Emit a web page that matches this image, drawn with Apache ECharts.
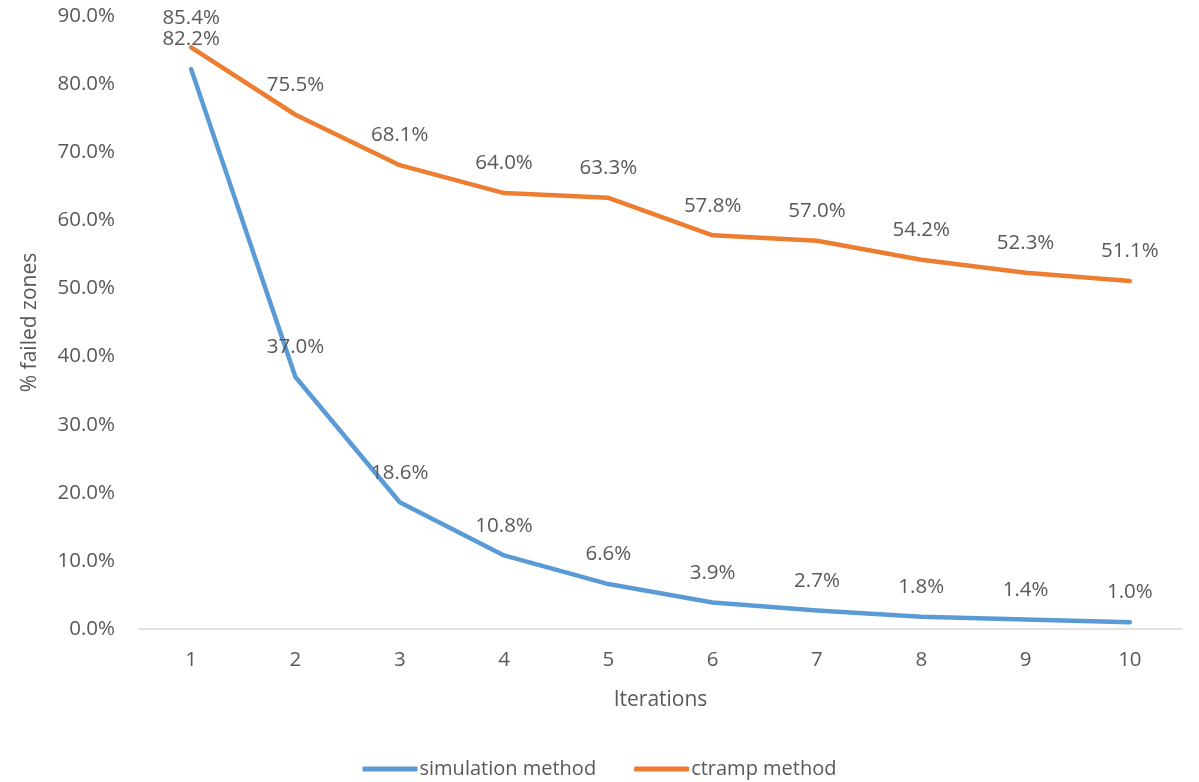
<!DOCTYPE html>
<html>
<head>
<meta charset="utf-8">
<script src="https://cdn.jsdelivr.net/npm/echarts@6/dist/echarts.min.js"></script>
<style>
  html, body { margin: 0; padding: 0; background: #fff; }
  #chart { width: 1199px; height: 782px; }
</style>
</head>
<body>
<div id="chart"></div>
<script>
// Iterations on the x axis
const iterations = ['1', '2', '3', '4', '5', '6', '7', '8', '9', '10'];
// Share of failed zones per iteration (%)
const simulationMethod = [82.2, 37.0, 18.6, 10.8, 6.6, 3.9, 2.7, 1.8, 1.4, 1.0];
const ctrampMethod = [85.4, 75.5, 68.1, 64.0, 63.3, 57.8, 57.0, 54.2, 52.3, 51.1];

const FONT = '"Open Sans", sans-serif';
const TEXT = '#595959';

const chart = echarts.init(document.getElementById('chart'), null, { renderer: 'canvas' });

function lineSeries(name, data, color) {
  return {
    name: name,
    type: 'line',
    data: data,
    // tiny invisible markers so the value labels have an anchor
    showSymbol: true,
    symbol: 'circle',
    symbolSize: 0.1,
    lineStyle: { color: color, width: 4.5, cap: 'round', join: 'round' },
    itemStyle: { color: color },
    label: {
      show: true,
      position: 'top',
      distance: 19,
      color: TEXT,
      fontFamily: FONT,
      fontSize: 20.5,
      formatter: p => p.value.toFixed(1) + '%'
    },
    emphasis: { disabled: true },
    animation: false
  };
}

chart.setOption({
  backgroundColor: '#fff',
  animation: false,
  grid: { left: 139, right: 17, top: 16, bottom: 153, containLabel: false },
  legend: {
    top: 754,
    left: 'center',
    itemWidth: 55,
    itemHeight: 5,
    itemGap: 38,
    icon: 'roundRect',
    textStyle: { color: TEXT, fontFamily: FONT, fontSize: 20, padding: [0, 0, 0, -3] },
    data: ['simulation method', 'ctramp method']
  },
  xAxis: {
    type: 'category',
    data: iterations,
    boundaryGap: true,
    name: 'Iterations',
    nameLocation: 'middle',
    nameGap: 61,
    nameTextStyle: { color: TEXT, fontFamily: FONT, fontSize: 21 },
    axisLine: { show: true, lineStyle: { color: '#D9D9D9', width: 1.5 } },
    axisTick: { show: false },
    axisLabel: { color: TEXT, fontFamily: FONT, fontSize: 20.5, margin: 21 },
    splitLine: { show: false }
  },
  yAxis: {
    type: 'value',
    min: 0,
    max: 90,
    interval: 10,
    name: '% failed zones',
    nameLocation: 'middle',
    nameGap: 98,
    nameTextStyle: { color: TEXT, fontFamily: FONT, fontSize: 21 },
    axisLine: { show: false },
    axisTick: { show: false },
    axisLabel: {
      color: TEXT, fontFamily: FONT, fontSize: 20.5, margin: 24,
      formatter: v => v.toFixed(1) + '%'
    },
    splitLine: { show: false }
  },
  series: [
    lineSeries('simulation method', simulationMethod, '#5B9BD5'),
    lineSeries('ctramp method', ctrampMethod, '#ED7D31')
  ]
});
</script>
</body>
</html>
